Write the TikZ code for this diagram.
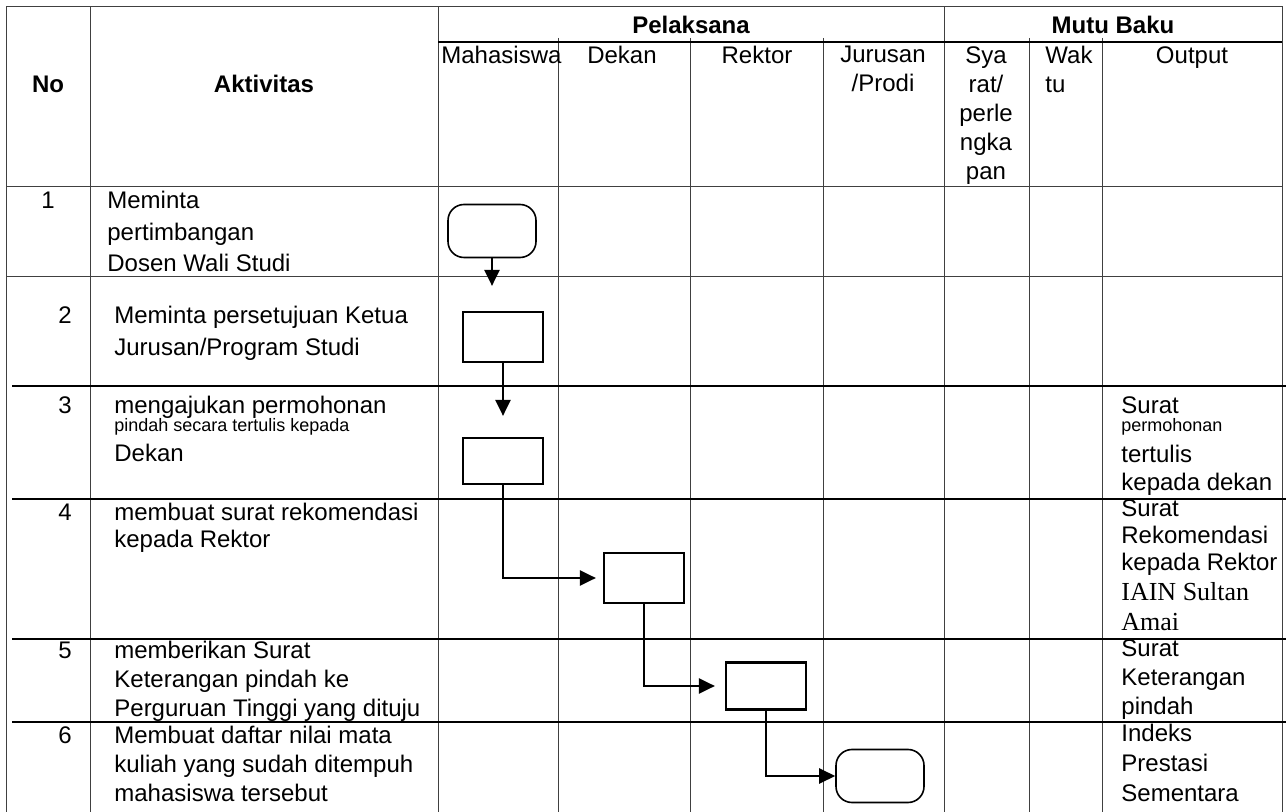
\documentclass[tikz,border=0pt]{standalone}
\usepackage{fontspec}
\setmainfont{Liberation Sans}
\newfontfamily\timesfont{Liberation Serif}
\usetikzlibrary{arrows.meta}

\begin{document}
\begin{tikzpicture}[x=0.5pt,y=-0.5pt,>={Triangle[length=8pt,width=7.5pt]},
    font=\fontsize{12}{14.5}\selectfont]
    \tikzset{
        grid/.style={draw=black!75,line width=0.5pt},
        rule/.style={draw=black,line width=1.3pt},
        head/.style={font=\fontsize{12}{14.5}\selectfont\bfseries,inner sep=0pt},
        colhead/.style={anchor=north,align=center,inner sep=0pt},
        cell/.style={anchor=north west,align=left,inner sep=0pt},
        num/.style={inner sep=0pt},
        small/.style={anchor=west,inner sep=0pt,font=\fontsize{9}{10}\selectfont},
        proc/.style={draw,line width=1.1pt,minimum width=40pt,minimum height=25pt,inner sep=0pt},
        term/.style={draw,line width=0.8pt,rounded corners=8pt,minimum width=44pt,minimum height=26.5pt,inner sep=0pt},
        link/.style={->,line width=1.2pt}
    }
    \useasboundingbox (0,0) rectangle (1286,812);

    \draw[grid] (6,812) -- (6,7) -- (1282,7) -- (1282,812);
    \foreach \x in {90,438,944}
        \draw[grid] (\x,7) -- (\x,812);
    \foreach \x in {558,690,823,1029,1102}
        \draw[grid] (\x,38) -- (\x,812);
    \draw[grid] (6,187) -- (1282,187);
    \draw[grid] (6,277) -- (1282,277);
    \draw[rule] (438,42) -- (1282,42);
    \foreach \y in {386,499,639,722}
        \draw[rule] (12,\y) -- (1286,\y);

    \node[head] (no) at (48,84) {No};
    \node[head] (akt) at (264,84) {Aktivitas};
    \node[head] (pel) at (691,25) {Pelaksana};
    \node[head] (mutu) at (1113,25) {Mutu Baku};

    \node[cell] (mhs) at (441,46) {Mahasiswa};
    \node[colhead] (dekan) at (622,46) {Dekan};
    \node[colhead] (rektor) at (757,46) {Rektor};
    \node[colhead] (jur) at (883,46) {Jurusan\\/Prodi};
    \node[colhead] (syarat) at (986,46) {Sya\\rat/\\perle\\ngka\\pan};
    \node[cell] (waktu) at (1045,46) {Wak\\tu};
    \node[colhead] (output) at (1192,46) {Output};

    \node[num] (n1) at (48,200) {1};
    \node[num] (n2) at (65,315) {2};
    \node[num] (n3) at (65,405) {3};
    \node[num] (n4) at (65,512) {4};
    \node[num] (n5) at (65,650) {5};
    \node[num] (n6) at (65,735) {6};

    \node[cell,font=\fontsize{12}{15.75}\selectfont] (a1) at (107,191)
        {Meminta\\pertimbangan\\Dosen Wali Studi};
    \node[cell,font=\fontsize{12}{16}\selectfont] (a2) at (114,306)
        {Meminta persetujuan Ketua\\Jurusan/Program Studi};
    \node[cell] (a3) at (114,396) {mengajukan permohonan};
    \node[small] (a3b) at (114,427) {pindah secara tertulis kepada};
    \node[cell] (a3c) at (114,444) {Dekan};
    \node[cell,font=\fontsize{12}{13.25}\selectfont] (a4) at (114,503)
        {membuat surat rekomendasi\\kepada Rektor};
    \node[cell] (a5) at (114,641)
        {memberikan Surat\\Keterangan pindah ke\\Perguruan Tinggi yang dituju};
    \node[cell] (a6) at (114,726)
        {Membuat daftar nilai mata\\kuliah yang sudah ditempuh\\mahasiswa tersebut};

    \node[cell] (o3) at (1121,396) {Surat};
    \node[small] (o3b) at (1121,427) {permohonan};
    \node[cell,font=\fontsize{12}{14}\selectfont] (o3c) at (1121,445)
        {tertulis\\kepada dekan};
    \node[cell,font=\fontsize{12}{13.5}\selectfont] (o4) at (1121,499)
        {Surat\\Rekomendasi\\kepada Rektor};
    \node[cell,font=\timesfont\fontsize{13}{15}\selectfont] (o4b) at (1121,582)
        {IAIN Sultan\\Amai};
    \node[cell] (o5) at (1121,639) {Surat\\Keterangan\\pindah};
    \node[cell,font=\fontsize{12}{15}\selectfont] (o6) at (1121,724)
        {Indeks\\Prestasi\\Sementara};

    \node[term] (t1) at (492,231) {};
    \node[proc] (m2) at (503,337) {};
    \node[proc,minimum height=23pt] (m3) at (503,461) {};
    \node[proc] (m4) at (644,578) {};
    \node[proc,minimum height=23.5pt] (m5) at (766,686) {};
    \node[term] (t6) at (880,776) {};

    \draw[link,shorten >=12.5pt] (t1.south) -- (t1.south |- m2.north);
    \draw[link,shorten >=10.5pt] (m2.south) -- (m3.north);
    \draw[link,shorten >=3.5pt] (m3.south) |- (m4.west);
    \draw[link,shorten >=5pt] (m4.south) |- (m5.west);
    \draw[link] (m5.south) |- (t6.west);
\end{tikzpicture}
\end{document}
